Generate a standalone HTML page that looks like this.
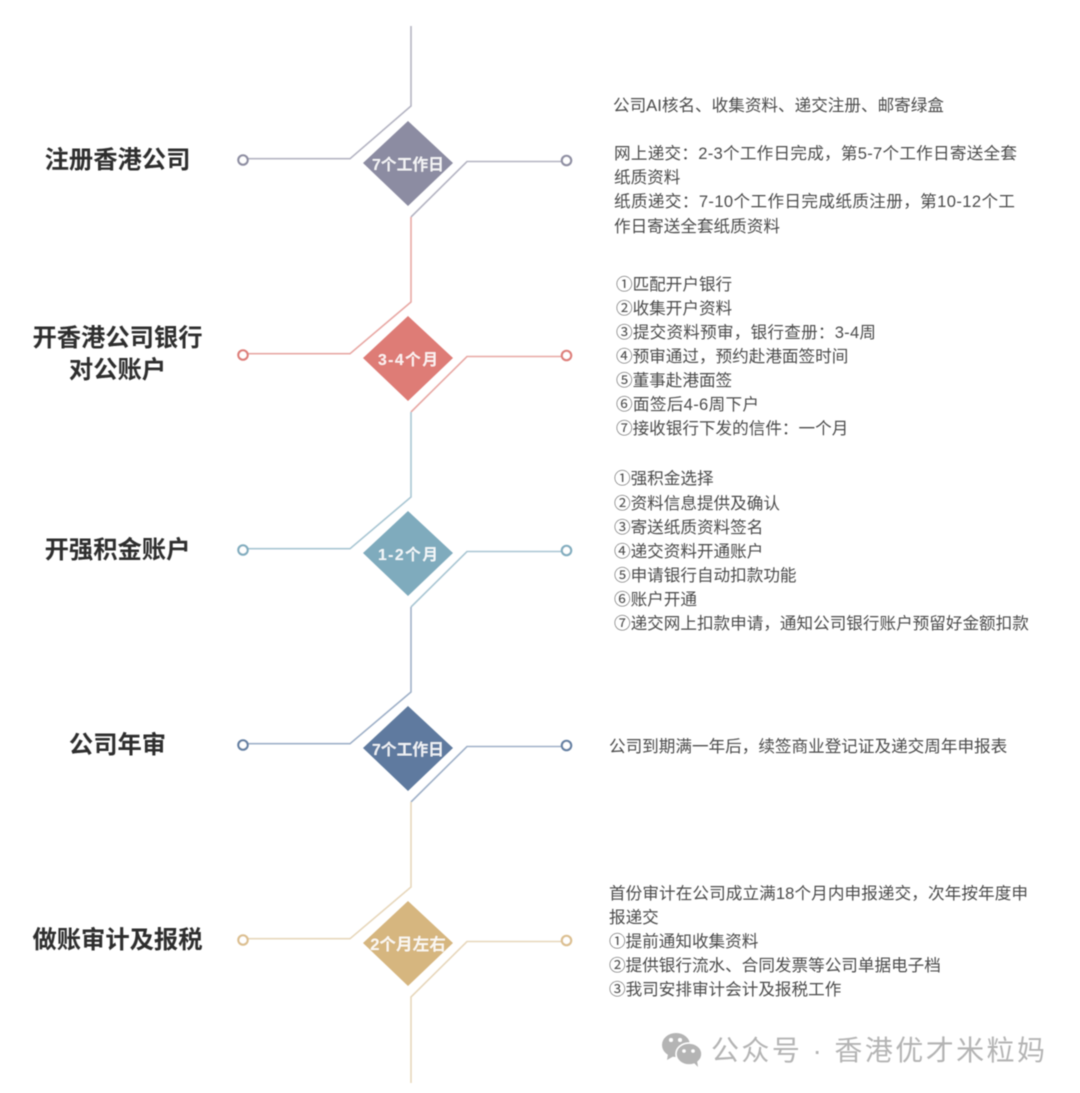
<!DOCTYPE html>
<html lang="zh"><head><meta charset="utf-8"><title>香港公司流程</title>
<style>
html,body{margin:0;padding:0;background:#fff}
svg{display:block}
text{font-family:"Liberation Sans","Noto Sans CJK SC",sans-serif}
.t{font-size:24.3px;font-weight:700;fill:#2f2f2f;text-anchor:middle}
.d{font-size:15.8px;font-weight:700;fill:#fff;fill-opacity:.9;text-anchor:middle}
.b{font-size:16.6px;fill:#4c4c4c}
.w{font-size:28px;fill:#b4b4b4}
.g{fill:none;stroke-width:1.6}
.c{fill:#fff;stroke-width:2.2}
</style></head>
<body>
<svg width="1080" height="1093" viewBox="0 0 1080 1093" xmlns="http://www.w3.org/2000/svg">
<defs><filter id="s" x="-5%" y="-5%" width="110%" height="110%"><feGaussianBlur stdDeviation="0.5"/></filter></defs>
<g filter="url(#s)">
<!-- Section 1 -->
<g stroke="#b4b4c2">
<path class="g" d="M411 26V106L350 158.700H248"/><circle class="c" cx="243" cy="160" r="4.700" stroke="#8f8fa3"/>
<path class="g" d="M561 161.500H467L411 217" /><circle class="c" cx="566.500" cy="160.500" r="4.700" stroke="#8f8fa3"/>
</g>
<polygon points="408,121 453,163 408,206 363,163" fill="#8c8ca2"/>
<!-- Section 2 -->
<g stroke="#e8a8a4">
<path class="g" d="M411 217V302L350 353.700H248"/><circle class="c" cx="243" cy="355" r="4.700" stroke="#de7f7a"/>
<path class="g" d="M561 356.500H467L411 412"/><circle class="c" cx="566.500" cy="355.500" r="4.700" stroke="#de7f7a"/>
</g>
<polygon points="408,316 453,358 408,401 363,358" fill="#de7b76"/>
<!-- Section 3 -->
<g stroke="#a9c6d3">
<path class="g" d="M411 412V497L350 548.700H248"/><circle class="c" cx="243" cy="550" r="4.700" stroke="#82adbf"/>
<path class="g" d="M561 551.500H467L411 607"/><circle class="c" cx="566.500" cy="550.500" r="4.700" stroke="#82adbf"/>
</g>
<polygon points="408,511 453,553 408,596 363,553" fill="#7fabbd"/>
<!-- Section 4 -->
<g stroke="#9fb0c8">
<path class="g" d="M411 607V692L350 743.700H248"/><circle class="c" cx="243" cy="745" r="4.700" stroke="#6580a3"/>
<path class="g" d="M561 746.500H467L411 802"/><circle class="c" cx="566.500" cy="745.500" r="4.700" stroke="#6580a3"/>
</g>
<polygon points="408,706 453,748 408,791 363,748" fill="#5f7a9f"/>
<!-- Section 5 -->
<g stroke="#e7d7bb">
<path class="g" d="M411 802V887L350 938.700H248"/><circle class="c" cx="243" cy="940" r="4.700" stroke="#dcbf90"/>
<path class="g" d="M561 941.500H467L411 997V1083"/><circle class="c" cx="566.500" cy="940.500" r="4.700" stroke="#dcbf90"/>
</g>
<polygon points="408,901 453,943 408,986 363,943" fill="#d6b67f"/>

<text class="d" x="408" y="170">7个工作日</text>
<text class="d" x="408" y="365" textLength="60">3-4个月</text>
<text class="d" x="408" y="560" textLength="60">1-2个月</text>
<text class="d" x="408" y="755">7个工作日</text>
<text class="d" x="408" y="950" style="font-size:16.6px">2个月左右</text>

<text class="t" x="117.500" y="168">注册香港公司</text>
<text class="t" x="117.500" y="346">开香港公司银行</text>
<text class="t" x="117.500" y="378">对公账户</text>
<text class="t" x="117.500" y="558">开强积金账户</text>
<text class="t" x="117.500" y="753">公司年审</text>
<text class="t" x="117.500" y="948">做账审计及报税</text>

<text class="b" x="613" y="111">公司AI核名、收集资料、递交注册、邮寄绿盒</text>
<text class="b" x="614" y="159" textLength="403">网上递交：2-3个工作日完成，第5-7个工作日寄送全套</text>
<text class="b" x="614" y="183">纸质资料</text>
<text class="b" x="614" y="207" textLength="401">纸质递交：7-10个工作日完成纸质注册，第10-12个工</text>
<text class="b" x="614" y="232">作日寄送全套纸质资料</text>

<text class="b" x="616" y="290">①匹配开户银行</text>
<text class="b" x="616" y="314">②收集开户资料</text>
<text class="b" x="616" y="338" textLength="260">③提交资料预审，银行查册：3-4周</text>
<text class="b" x="616" y="362">④预审通过，预约赴港面签时间</text>
<text class="b" x="616" y="386">⑤董事赴港面签</text>
<text class="b" x="616" y="410" textLength="143">⑥面签后4-6周下户</text>
<text class="b" x="616" y="434">⑦接收银行下发的信件：一个月</text>

<text class="b" x="614" y="484">①强积金选择</text>
<text class="b" x="614" y="509">②资料信息提供及确认</text>
<text class="b" x="614" y="533">③寄送纸质资料签名</text>
<text class="b" x="614" y="557">④递交资料开通账户</text>
<text class="b" x="614" y="581">⑤申请银行自动扣款功能</text>
<text class="b" x="614" y="605">⑥账户开通</text>
<text class="b" x="614" y="629">⑦递交网上扣款申请，通知公司银行账户预留好金额扣款</text>

<text class="b" x="609" y="752">公司到期满一年后，续签商业登记证及递交周年申报表</text>

<text class="b" x="609" y="899" textLength="419">首份审计在公司成立满18个月内申报递交，次年按年度申</text>
<text class="b" x="609" y="923">报递交</text>
<text class="b" x="609" y="947">①提前通知收集资料</text>
<text class="b" x="609" y="971">②提供银行流水、合同发票等公司单据电子档</text>
<text class="b" x="609" y="995">③我司安排审计会计及报税工作</text>

<!-- Watermark -->
<ellipse cx="676" cy="1045" rx="14" ry="12" fill="#b4b4b4"/>
<path d="M668 1054l-1 6 7-4z" fill="#b4b4b4"/>
<ellipse cx="689" cy="1054" rx="13" ry="11" fill="#b4b4b4" stroke="#fff" stroke-width="1.500"/>
<path d="M694 1063l4 4-1-7z" fill="#b4b4b4"/>
<circle cx="671" cy="1040" r="2" fill="#fff"/><circle cx="680" cy="1040" r="2" fill="#fff"/>
<circle cx="684" cy="1051" r="1.800" fill="#fff"/><circle cx="693" cy="1051" r="1.800" fill="#fff"/>
<text class="w" x="711" y="1060" textLength="334">公众号 · 香港优才米粒妈</text>
</g>
</svg>
</body></html>
